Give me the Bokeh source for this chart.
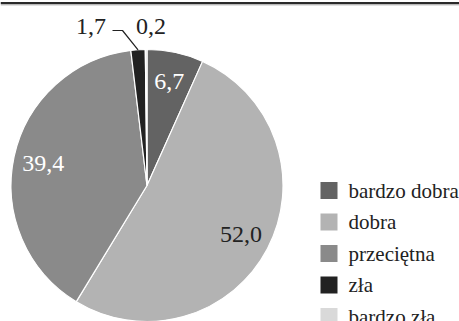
import math

from bokeh.plotting import figure
from bokeh.models import Range1d, Span
from bokeh.core.properties import value
from bokeh.embed import file_html
from bokeh.resources import INLINE

# Ratings of quality (percent shares)
categories = ["bardzo dobra", "dobra", "przeciętna", "zła", "bardzo zła"]
shares = [6.7, 52.0, 39.4, 1.7, 0.2]
share_labels = ["6,7", "52,0", "39,4", "1,7", "0,2"]
colors = ["#636363", "#b3b3b3", "#8a8a8a", "#222222", "#d9d9d9"]
label_colors = ["white", "#222222", "white", "#222222", "#222222"]

W, H = 459, 321
FONT = "Liberation Serif"


def sy(y):
    """Convert a top-down pixel offset into the upward y of the plot."""
    return H - y


p = figure(width=W, height=H, output_backend="svg", toolbar_location=None,
           x_range=Range1d(0, W), y_range=Range1d(0, H),
           min_border=0, outline_line_color=None)
p.axis.visible = False
p.grid.visible = False
p.background_fill_color = "white"
p.border_fill_color = "white"

# Double rule along the top edge
p.add_layout(Span(location=sy(2.5), dimension="width", line_color="#2a2a2a", line_width=2))
p.add_layout(Span(location=sy(4.3), dimension="width", line_color="#9a9a9a", line_width=1))

# Pie, clockwise from twelve o'clock
cx, cy, R = 146.5, sy(185.0), 136.0
total = sum(shares)
starts, ends, mids = [], [], []
acc = 0.0
for s in shares:
    a0 = math.pi / 2 - 2 * math.pi * acc / total
    acc += s
    a1 = math.pi / 2 - 2 * math.pi * acc / total
    starts.append(a0)
    ends.append(a1)
    mids.append((a0 + a1) / 2)

p.wedge(x=[cx] * len(shares), y=[cy] * len(shares), radius=R,
        start_angle=starts, end_angle=ends, direction="clock",
        fill_color=colors, line_color="white", line_width=1.2)

# Inside labels for the three large slices
r_lab = 0.78 * R
for i in range(3):
    p.text(x=[cx + r_lab * math.cos(mids[i])], y=[cy + r_lab * math.sin(mids[i])],
           text=[share_labels[i]], text_align="center", text_baseline="middle",
           text_font=value(FONT), text_font_size="24px", text_color=label_colors[i])

# Outside labels for the two thin slices, above the pie
top = cy + R
p.text(x=[cx - 56, cx + 4], y=[top + 23.5, top + 23.5], text=share_labels[3:],
       text_align="center", text_baseline="middle", text_font=value(FONT),
       text_font_size="24px", text_color=label_colors[3])

# Leader line from "1,7" to its slice
ex, ey = cx + R * math.cos(mids[3]), cy + R * math.sin(mids[3])
p.line(x=[cx - 34.5, cx - 24.5, ex], y=[top + 19, top + 19, ey],
       line_color="#222222", line_width=1.2)

# Legend
lx_box, lx_text = 328.5, 348
row0, step = 190.0, 31.5
ys = [sy(row0 + k * step) for k in range(len(categories))]
p.scatter(x=[lx_box] * len(categories), y=ys, marker="square", size=17,
          fill_color=colors, line_color=None)
p.text(x=[lx_text] * len(categories), y=ys, text=categories,
       text_baseline="middle", text_font=value(FONT), text_font_size="21px",
       text_color="#222222")

open("out.html", "w").write(file_html(p, INLINE))
